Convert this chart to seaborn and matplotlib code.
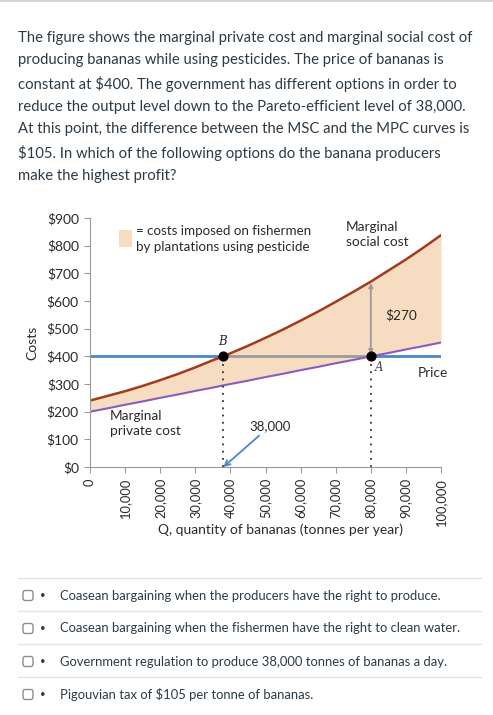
import seaborn as sns
import matplotlib.pyplot as plt
import pandas as pd
from matplotlib.patches import FancyBboxPatch, Rectangle
from matplotlib.lines import Line2D

# values
quantity = [0, 5000, 10000, 15000, 20000, 25000, 30000, 35000, 38000, 40000, 45000,
            50000, 55000, 60000, 65000, 70000, 75000, 80000, 85000, 90000, 95000, 100000]
msc = [240, 257, 274, 293, 314, 336, 360, 386, 400, 411, 438,
       467, 497, 529, 562, 597, 633, 670, 710, 750, 793, 838]
mpc = [200, 212, 225, 237, 250, 262, 275, 287, 295, 300, 312,
       325, 337, 350, 362, 375, 387, 400, 412, 425, 437, 450]
price = 400
q_efficient = 38000
q_market = 80000
gap_label = "$270"
y_ticks = [0, 100, 200, 300, 400, 500, 600, 700, 800, 900]
x_ticks = [0, 10000, 20000, 30000, 40000, 50000, 60000, 70000, 80000, 90000, 100000]

question = ("The figure shows the marginal private cost and marginal social cost of\n"
            "producing bananas while using pesticides. The price of bananas is\n"
            "constant at \\$400. The government has different options in order to\n"
            "reduce the output level down to the Pareto-efficient level of 38,000.\n"
            "At this point, the difference between the MSC and the MPC curves is\n"
            "\\$105. In which of the following options do the banana producers\n"
            "make the highest profit?")
answers = ["Coasean bargaining when the producers have the right to produce.",
           "Coasean bargaining when the fishermen have the right to clean water.",
           "Government regulation to produce 38,000 tonnes of bananas a day.",
           "Pigouvian tax of \\$105 per tonne of bananas."]

df = pd.DataFrame({"q": quantity, "msc": msc, "mpc": mpc})

sns.set_style("white")
plt.rcParams["font.family"] = ["Lato", "DejaVu Sans"]

W, H = 493, 715
fig = plt.figure(figsize=(W / 100, H / 100), dpi=100)

def fx(px):
    return px / W

def fy(py):
    return 1 - py / H

text_col = "#2d3b45"
chart_col = "#2a2a2a"
peach = "#f6dcc0"
brown = "#a23b1c"
purple = "#8a5cc0"
blue = "#4a86c8"
grey = "#9a9a9a"

# page decoration
fig.add_artist(Line2D([0, 1], [fy(1), fy(1)], color="#c7cdd1", lw=1.2))
fig.text(fx(18), fy(31), question, ha="left", va="top", fontsize=10.7,
         color=text_col, linespacing=1.71)

# chart
ax = fig.add_axes([fx(90), fy(467), fx(441 - 90), (467 - 218) / H])
ax.fill_between(df["q"], df["mpc"], df["msc"], color=peach, lw=0)
sns.lineplot(data=df, x="q", y="mpc", ax=ax, color=purple, lw=1.5)
sns.lineplot(data=df, x="q", y="msc", ax=ax, color=brown, lw=1.8)
ax.plot([0, q_efficient], [price, price], color=blue, lw=2, zorder=1)
ax.plot([q_efficient, q_market], [price, price], color=grey, lw=2, zorder=1)
ax.plot([q_market, quantity[-1]], [price, price], color=blue, lw=2, zorder=1)
ax.plot([q_efficient, q_efficient], [0, price], color="#333333", lw=1.3, ls=(0, (1, 3)))
ax.plot([q_market, q_market], [0, price], color="#333333", lw=1.3, ls=(0, (1, 3)))
ax.scatter([q_efficient, q_market], [price, price], color="black", s=40, zorder=5)
msc_at_market = msc[quantity.index(q_market)]
ax.annotate("", xy=(q_market, price + 8), xytext=(q_market, msc_at_market - 5),
            arrowprops=dict(arrowstyle="<|-|>", color=grey, lw=1.3,
                            mutation_scale=6, shrinkA=0, shrinkB=0))
ax.annotate("38,000", xy=(q_efficient, 0), xytext=(45300, 125),
            fontsize=9.5, color=chart_col, va="bottom", ha="left",
            arrowprops=dict(arrowstyle="->", color=blue, lw=1.3,
                            shrinkA=0, shrinkB=0))

ax.text(37800, 430, "B", fontfamily="DejaVu Serif", style="italic", fontsize=8.5,
        ha="center", va="bottom")
ax.text(81300, 358, "A", fontfamily="DejaVu Serif", style="italic", fontsize=8.5,
        ha="left", va="center", color="#444444")
ax.text(84000, 549, gap_label, fontsize=9.8, ha="left", va="center", color=chart_col)
ax.text(93300, 340, "Price", fontsize=9.8, ha="left", va="center", color=chart_col)
ax.text(73000, 890, "Marginal\nsocial cost", fontsize=9.8, ha="left", va="top",
        color=chart_col, linespacing=1.3)
ax.text(5700, 206, "Marginal\nprivate cost", fontsize=9.8, ha="left", va="top",
        color=chart_col, linespacing=1.3)
ax.add_patch(Rectangle((8200, 795), 3900, 60, color=peach, lw=0))
ax.text(13100, 874, "= costs imposed on fishermen\nby plantations using pesticide",
        fontsize=9.6, ha="left", va="top", color=chart_col, linespacing=1.4)

ax.set_xlim(0, 100000)
ax.set_ylim(0, 900)
ax.set_xticks(x_ticks)
ax.set_xticklabels([f"{t:,}" for t in x_ticks], rotation=90, fontsize=9.3, color=chart_col)
ax.set_yticks(y_ticks)
ax.set_yticklabels([f"${t}" for t in y_ticks], fontsize=10, color=chart_col)
ax.tick_params(axis="both", length=4, width=0.8, color=grey, direction="out", pad=4)
ax.tick_params(axis="y", left=True)
ax.tick_params(axis="x", bottom=True)
for side in ["top", "right"]:
    ax.spines[side].set_visible(False)
for side in ["left", "bottom"]:
    ax.spines[side].set_color(grey)
    ax.spines[side].set_linewidth(0.8)
ax.set_xlabel("")
ax.set_ylabel("Costs", fontsize=10, color=chart_col, labelpad=6)
fig.text(fx(280), fy(530), "Q, quantity of bananas (tonnes per year)", fontsize=10,
         ha="center", va="center", color=chart_col)

# answer list
for i, answer in enumerate(answers):
    line_y = 578 + i * 33
    fig.add_artist(Line2D([fx(18), fx(481)], [fy(line_y), fy(line_y)],
                          color="#e0e3e5", lw=1))
    cy = line_y + 17.5
    fig.add_artist(FancyBboxPatch((fx(23), fy(cy + 5)), fx(10), 10 / H,
                                  boxstyle="round,pad=0,rounding_size=0.004",
                                  fc="white", ec="#8a8f94", lw=1))
    fig.text(fx(43), fy(cy), "•", fontsize=7, ha="center", va="center", color=text_col)
    fig.text(fx(60), fy(cy), answer, fontsize=9.35, ha="left", va="center", color=text_col)

fig.savefig("out.png", dpi=100)
